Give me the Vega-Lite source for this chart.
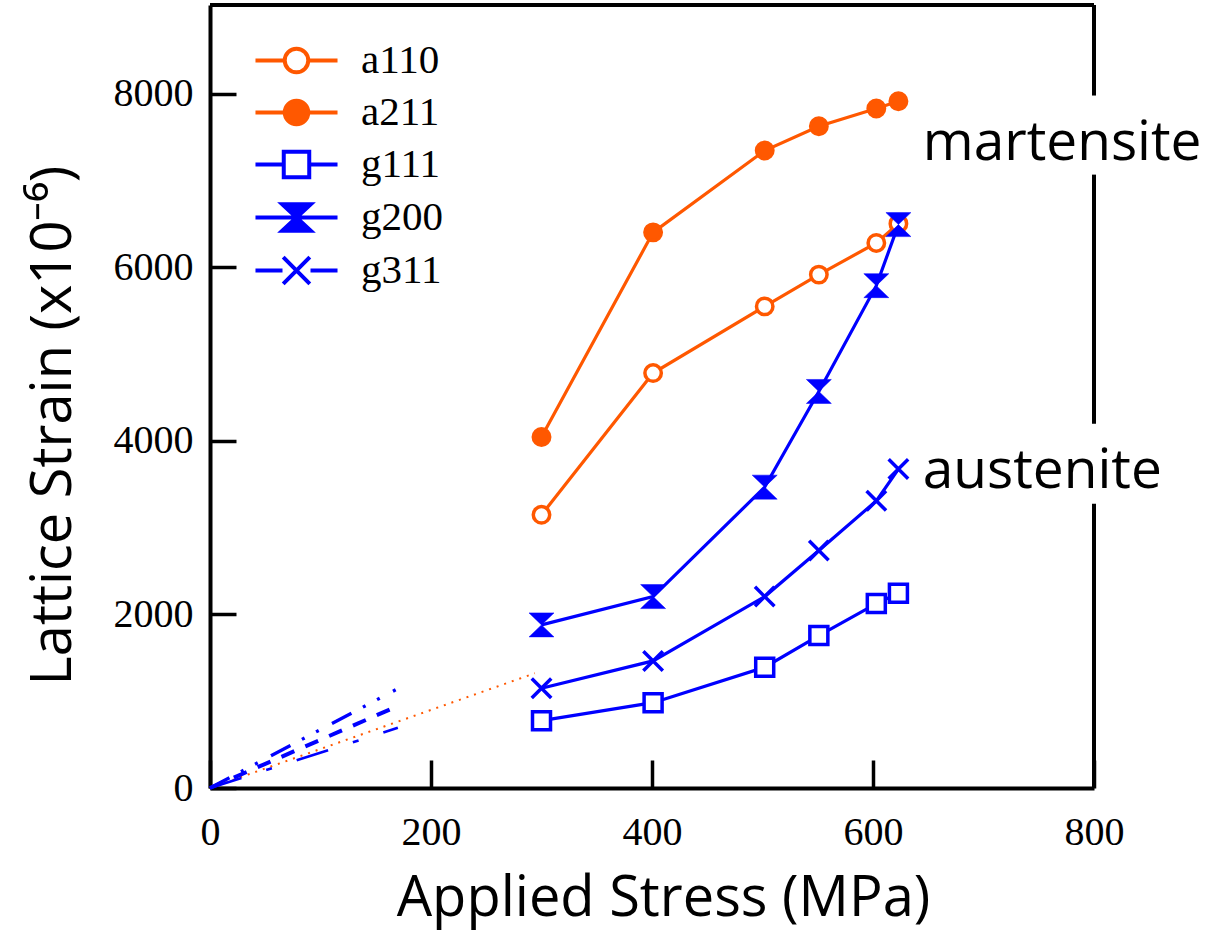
{
  "$schema": "https://vega.github.io/schema/vega-lite/v6.json",
  "width": 884,
  "height": 783,
  "autosize": "none",
  "padding": {"left": 210, "top": 5, "right": 114, "bottom": 142},
  "background": "white",
  "view": {"stroke": null},
  "datasets": {
    "pts": [
      {"series": "a110", "stress": 300, "strain": 3147},
      {"series": "a110", "stress": 401, "strain": 4780},
      {"series": "a110", "stress": 502, "strain": 5548},
      {"series": "a110", "stress": 551, "strain": 5914},
      {"series": "a110", "stress": 603, "strain": 6279},
      {"series": "a110", "stress": 623, "strain": 6501},
      {"series": "a211", "stress": 300, "strain": 4043},
      {"series": "a211", "stress": 401, "strain": 6401},
      {"series": "a211", "stress": 502, "strain": 7343},
      {"series": "a211", "stress": 551, "strain": 7623},
      {"series": "a211", "stress": 603, "strain": 7827},
      {"series": "a211", "stress": 623, "strain": 7911},
      {"series": "g111", "stress": 300, "strain": 776},
      {"series": "g111", "stress": 401, "strain": 983},
      {"series": "g111", "stress": 502, "strain": 1391},
      {"series": "g111", "stress": 551, "strain": 1756},
      {"series": "g111", "stress": 603, "strain": 2124},
      {"series": "g111", "stress": 623, "strain": 2244},
      {"series": "g200", "stress": 300, "strain": 1879},
      {"series": "g200", "stress": 401, "strain": 2205},
      {"series": "g200", "stress": 502, "strain": 3466},
      {"series": "g200", "stress": 551, "strain": 4568},
      {"series": "g200", "stress": 603, "strain": 5787},
      {"series": "g200", "stress": 623, "strain": 6490},
      {"series": "g311", "stress": 300, "strain": 1149},
      {"series": "g311", "stress": 401, "strain": 1464},
      {"series": "g311", "stress": 502, "strain": 2205},
      {"series": "g311", "stress": 551, "strain": 2735},
      {"series": "g311", "stress": 603, "strain": 3308},
      {"series": "g311", "stress": 623, "strain": 3674}
    ],
    "elastic": [
      {"series": "a-el", "stress": 0, "strain": 0},
      {"series": "a-el", "stress": 294, "strain": 1322},
      {"series": "g111-el", "stress": 0, "strain": 0},
      {"series": "g111-el", "stress": 170, "strain": 693},
      {"series": "g200-el", "stress": 0, "strain": 0},
      {"series": "g200-el", "stress": 168, "strain": 1131},
      {"series": "g311-el", "stress": 0, "strain": 0},
      {"series": "g311-el", "stress": 169, "strain": 939}
    ],
    "labels": [
      {"label": "martensite", "stress": 645, "strain": 7239},
      {"label": "austenite", "stress": 645, "strain": 3458}
    ],
    "frame": [
      {"stress": 800, "stress2": 800, "strain": 0, "strain2": 3274},
      {"stress": 800, "stress2": 800, "strain": 4196, "strain2": 7066},
      {"stress": 800, "stress2": 800, "strain": 7977, "strain2": 9020},
      {"stress": 0, "stress2": 800, "strain": 9020, "strain2": 9020}
    ]
  },
  "encoding": {
    "x": {
      "field": "stress", "type": "quantitative", "title": "Applied Stress (MPa)",
      "scale": {"domain": [0, 800], "nice": false, "zero": false},
      "axis": {
        "values": [0, 200, 400, 600, 800], "format": "d", "grid": false,
        "domainColor": "black", "domainWidth": 4,
        "tickColor": "black", "tickWidth": 3.5, "tickSize": -28,
        "labelFont": "Liberation Serif", "labelFontSize": 40, "labelColor": "black",
        "labelPadding": 52, "labelFlush": false, "labelOverlap": false,
        "titleFont": "Open Sans", "titleFontSize": 56, "titleFontWeight": "normal", "titleColor": "black",
        "titleX": 453, "titleY": 127, "titleBaseline": "alphabetic", "titleAlign": "center"
      }
    },
    "y": {
      "field": "strain", "type": "quantitative", "title": "Lattice Strain (x10⁻⁶)",
      "scale": {"domain": [0, 9020], "nice": false, "zero": false},
      "axis": {
        "values": [0, 2000, 4000, 6000, 8000], "format": "d", "grid": false,
        "domainColor": "black", "domainWidth": 4,
        "tickColor": "black", "tickWidth": 3.5, "tickSize": -26,
        "labelFont": "Liberation Serif", "labelFontSize": 40, "labelColor": "black",
        "labelPadding": 43, "labelFlush": false, "labelOverlap": false,
        "titleFont": "Open Sans", "titleFontSize": 56, "titleFontWeight": "normal", "titleColor": "black",
        "titleAngle": 270, "titleX": -140, "titleY": 420, "titleBaseline": "alphabetic", "titleAlign": "center"
      }
    }
  },
  "layer": [
    {
      "data": {"name": "elastic"},
      "mark": {"type": "line"},
      "encoding": {
        "detail": {"field": "series"},
        "color": {"field": "series", "legend": null,
          "scale": {"domain": ["a110", "a211", "g111", "g200", "g311", "a-el", "g111-el", "g200-el", "g311-el"], "range": ["#ff5800", "#ff5800", "#0000ff", "#0000ff", "#0000ff", "#ff5800", "#0000ff", "#0000ff", "#0000ff"]}},
        "strokeDash": {"field": "series", "legend": null,
          "scale": {"domain": ["a-el", "g111-el", "g200-el", "g311-el"], "range": [[2, 6], [33, 26, 6, 26], [22, 13, 3, 13, 3, 15], [14, 12]]}},
        "strokeWidth": {"field": "series", "legend": null,
          "scale": {"domain": ["a-el", "g111-el", "g200-el", "g311-el"], "range": [2, 4, 4, 4]}}
      }
    },
    {
      "data": {"name": "pts"},
      "mark": {"type": "line", "strokeWidth": 3.2},
      "encoding": {
        "detail": {"field": "series"},
        "color": {"field": "series", "legend": null,
          "scale": {"domain": ["a110", "a211", "g111", "g200", "g311", "a-el", "g111-el", "g200-el", "g311-el"], "range": ["#ff5800", "#ff5800", "#0000ff", "#0000ff", "#0000ff", "#ff5800", "#0000ff", "#0000ff", "#0000ff"]}}
      }
    },
    {
      "data": {"name": "pts"},
      "transform": [{"filter": "datum.series === 'a110'"}],
      "mark": {"type": "point", "shape": "circle", "size": 270, "fill": "white", "stroke": "#ff5800", "strokeWidth": 3.5, "opacity": 1}
    },
    {
      "data": {"name": "pts"},
      "transform": [{"filter": "datum.series === 'a211'"}],
      "mark": {"type": "point", "shape": "circle", "size": 270, "fill": "#ff5800", "stroke": "#ff5800", "strokeWidth": 3.5, "opacity": 1}
    },
    {
      "data": {"name": "pts"},
      "transform": [{"filter": "datum.series === 'g111'"}],
      "mark": {"type": "point", "shape": "square", "size": 324, "fill": "white", "stroke": "#0000ff", "strokeWidth": 3.5, "opacity": 1}
    },
    {
      "data": {"name": "pts"},
      "transform": [{"filter": "datum.series === 'g200'"}],
      "mark": {"type": "point", "shape": "M-1,-0.96H1L-1,0.96H1Z", "size": 625, "fill": "#0000ff", "stroke": "#0000ff", "strokeWidth": 0.5, "opacity": 1}
    },
    {
      "data": {"name": "pts"},
      "transform": [{"filter": "datum.series === 'g311'"}],
      "mark": {"type": "point", "shape": "M-1,-1L1,1M-1,1L1,-1", "size": 380, "filled": false, "stroke": "#0000ff", "strokeWidth": 3.5, "opacity": 1}
    },
    {
      "data": {"name": "pts"},
      "mark": {"type": "point", "opacity": 0, "filled": true},
      "encoding": {
        "shape": {"field": "series", "title": null,
          "scale": {"domain": ["a110", "a211", "g111", "g200", "g311"],
            "range": [
              "M-2.93,0H-0.84M0.84,0H2.93M-0.84,0A0.84,0.84,0,1,1,0.84,0A0.84,0.84,0,1,1,-0.84,0Z",
              "M-2.93,0H-0.84M0.84,0H2.93M-0.84,0A0.84,0.84,0,1,1,0.84,0A0.84,0.84,0,1,1,-0.84,0Z",
              "M-2.93,0H-0.91M0.91,0H2.93M-0.91,-0.91H0.91V0.91H-0.91Z",
              "M-2.93,0H2.93M-1.02,-0.95H1.02L-1.02,0.95H1.02Z",
              "M-2.93,0H-1M1,0H2.93M-0.95,-0.95L0.95,0.95M-0.95,0.95L0.95,-0.95"
            ]}},
        "fill": {"field": "series", "title": null,
          "scale": {"domain": ["a110", "a211", "g111", "g200", "g311"], "range": ["white", "#ff5800", "white", "#0000ff", "#0000ff"]}},
        "stroke": {"field": "series", "title": null,
          "scale": {"domain": ["a110", "a211", "g111", "g200", "g311"], "range": ["#ff5800", "#ff5800", "#0000ff", "#0000ff", "#0000ff"]}}
      }
    },
    {
      "data": {"name": "labels"},
      "mark": {"type": "text", "font": "Open Sans", "fontSize": 55, "align": "left", "baseline": "alphabetic", "color": "black"},
      "encoding": {"text": {"field": "label"}}
    },
    {
      "data": {"name": "frame"},
      "mark": {"type": "rule", "color": "black", "strokeWidth": 4},
      "encoding": {
        "x2": {"field": "stress2"},
        "y2": {"field": "strain2"}
      }
    }
  ],
  "config": {
    "legend": {
      "orient": "none", "legendX": 66, "legendY": 35, "padding": 0,
      "labelFont": "Liberation Serif", "labelFontSize": 41, "labelColor": "black", "labelOffset": 44, "labelLimit": 400,
      "symbolSize": 784, "symbolStrokeWidth": 4, "symbolOpacity": 1, "rowPadding": 10
    }
  }
}
